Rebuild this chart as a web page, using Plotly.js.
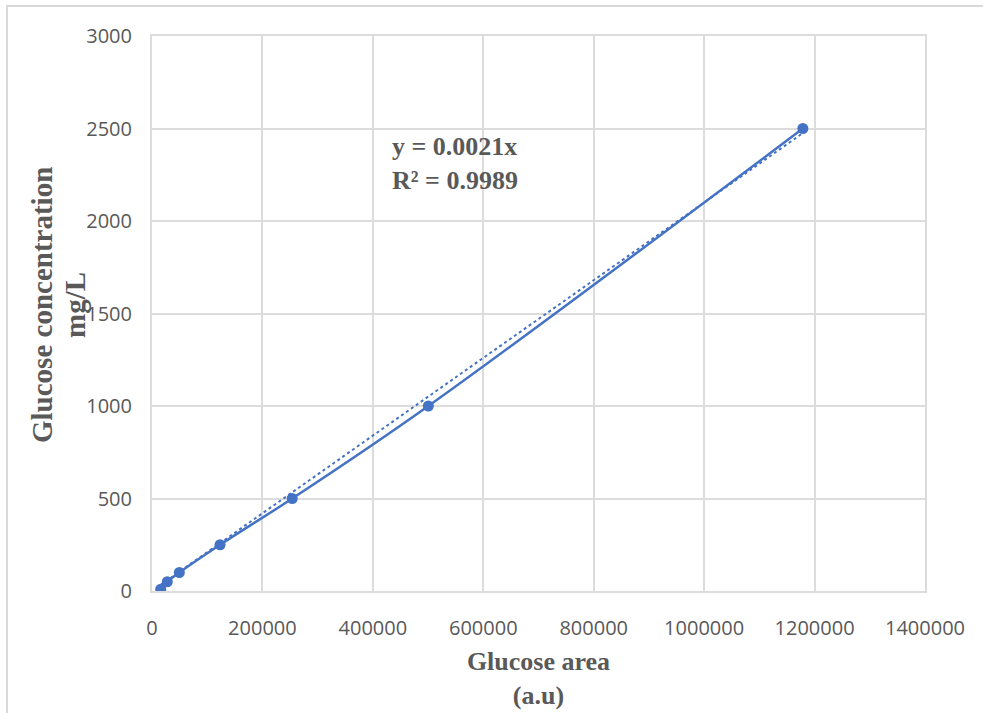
<!DOCTYPE html>
<html>
<head>
<meta charset="utf-8">
<script src="https://cdn.plot.ly/plotly-3.0.1.min.js"></script>
<style>
  html, body { margin: 0; padding: 0; background: #ffffff; }
  #chart { width: 983px; height: 713px; position: relative; }
  #frame { position: absolute; left: 6px; top: 5px; right: -10px; bottom: -10px;
           border-left: 2px solid #d9d9d9; border-top: 2px solid #d9d9d9; pointer-events: none; }
</style>
</head>
<body>
<div id="chart"></div>
<div id="frame"></div>
<script>
// Calibration standards: peak area vs. glucose concentration
const glucoseArea = [15800, 27700, 49500, 123300, 254000, 500500, 1178800];
const glucoseConc = [10, 50, 100, 250, 500, 1000, 2500];

// Linear fit through the origin
const slope = 0.0021;
const rSquared = 0.9989;

const xTickVals = [0, 200000, 400000, 600000, 800000, 1000000, 1200000, 1400000];
const yTickVals = [0, 500, 1000, 1500, 2000, 2500, 3000];

const yTitleLines = ['Glucose concentration', 'mg/L'];

const blue = '#4472C4';
const textGray = '#595959';
const gridGray = '#dcdcdc';
const serif = '"Liberation Serif", "Times New Roman", serif';
const sans = '"Open Sans", "Liberation Sans", sans-serif';

const xMin = Math.min(...glucoseArea);
const xMax = Math.max(...glucoseArea);

const traces = [
  {
    x: [xMin, xMax],
    y: [slope * xMin, slope * xMax],
    mode: 'lines',
    line: { color: blue, width: 2, dash: 'dot' },
    hoverinfo: 'skip',
    showlegend: false
  },
  {
    x: glucoseArea,
    y: glucoseConc,
    mode: 'lines+markers',
    line: { color: blue, width: 2.5, shape: 'spline', smoothing: 1 },
    marker: { color: blue, size: 11 },
    showlegend: false
  }
];

// plot area in pixels: x 152..925, y 36..591
const plotW = 983 - 152 - 58;
const plotH = 713 - 36 - 122;
const px = (p) => (p - 152) / plotW;
const py = (p) => (591 - p) / plotH;

const yTitleFont = { family: serif, size: 29, color: textGray, weight: 'bold' };

const layout = {
  width: 983,
  height: 713,
  margin: { l: 152, r: 58, t: 36, b: 122 },
  paper_bgcolor: '#ffffff',
  plot_bgcolor: '#ffffff',
  showlegend: false,
  xaxis: {
    range: [0, 1400000],
    tickvals: xTickVals,
    ticktext: xTickVals.map(String),
    tickfont: { family: sans, size: 20, color: textGray },
    ticklabelstandoff: 18,
    showgrid: true,
    gridcolor: gridGray,
    gridwidth: 2,
    zeroline: false,
    showline: true,
    linecolor: gridGray,
    linewidth: 2,
    mirror: true,
    title: {
      text: 'Glucose area<br>(a.u)',
      font: { family: serif, size: 26, color: textGray, weight: 'bold' },
      standoff: 12
    }
  },
  yaxis: {
    range: [0, 3000],
    tickvals: yTickVals,
    ticktext: yTickVals.map(String),
    tickfont: { family: sans, size: 20, color: textGray },
    ticklabelstandoff: 14,
    showgrid: true,
    gridcolor: gridGray,
    gridwidth: 2,
    zeroline: false,
    showline: true,
    linecolor: gridGray,
    linewidth: 2,
    mirror: true
  },
  annotations: [
    {
      xref: 'paper', yref: 'paper',
      x: px(390), y: py(130),
      xanchor: 'left', yanchor: 'top',
      align: 'left',
      showarrow: false,
      text: 'y = ' + slope + 'x<br>R² = ' + rSquared,
      font: { family: serif, size: 26, color: textGray, weight: 'bold' }
    },
    {
      xref: 'paper', yref: 'paper',
      x: px(42), y: py(305),
      xanchor: 'center', yanchor: 'middle',
      textangle: -90,
      showarrow: false,
      text: yTitleLines[0],
      font: yTitleFont
    },
    {
      xref: 'paper', yref: 'paper',
      x: px(75), y: py(305),
      xanchor: 'center', yanchor: 'middle',
      textangle: -90,
      showarrow: false,
      text: yTitleLines[1],
      font: yTitleFont
    }
  ]
};

Plotly.newPlot('chart', traces, layout, { displayModeBar: false, staticPlot: true });
</script>
</body>
</html>
